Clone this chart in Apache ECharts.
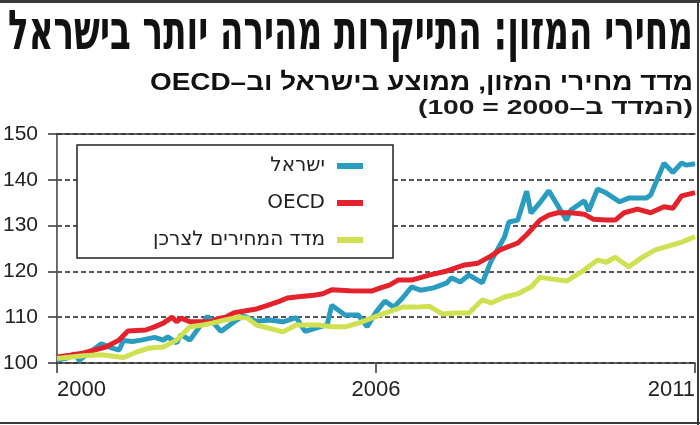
<!DOCTYPE html>
<html>
<head>
<meta charset="utf-8">
<script src="https://cdn.jsdelivr.net/npm/echarts@6/dist/echarts.min.js"></script>
<style>
  html, body { margin: 0; padding: 0; background: #fff; }
  #chart { width: 700px; height: 425px; }
</style>
</head>
<body>
<div id="chart"></div>
<script>
// months counted from January 2000, index = 100 in 2000
const israelMonths = [0, 2, 4, 5, 10, 12, 14, 15, 17, 19, 22, 24, 25, 27, 28, 30, 32, 34, 37, 40, 42, 45, 48, 51, 54, 56,
  61, 62, 65, 68, 70, 72, 74, 76, 78, 80, 82, 85, 88, 89, 91, 93, 96, 98, 101, 102, 104, 106, 107, 109, 111,
  115, 116, 119, 120, 122, 124, 127, 129, 133, 134, 137, 139, 141, 142, 144]
const israelValues = [100.6, 101.0, 102.0, 100.6, 104.2, 103.4, 102.8, 104.9, 104.7, 105.0, 105.6, 105.0, 105.7, 104.4,
  106.2, 105.0, 107.7, 110.2, 106.9, 109.0, 110.3, 109.1, 109.4, 109.0, 109.9, 106.9,
  108.4, 112.6, 110.5, 110.5, 107.9, 111.1, 113.5, 112.2, 114.2, 116.6, 115.9, 116.4, 117.5, 118.6, 117.7,
  119.2, 117.5, 122.3, 127.5, 130.8, 131.2, 137.5, 132.7, 135.0, 137.6,
  131.2, 133.4, 135.4, 133.2, 138.0, 137.1, 135.2, 136.0, 136.0, 136.7, 143.6, 141.6, 143.7, 143.2, 143.5]

const oecdMonths = [0, 3, 6, 11, 14, 16, 20, 22, 24, 26, 27, 28, 30, 33, 35, 36, 38, 40, 42, 45, 47, 50, 52, 55, 58, 60,
  62, 66, 71, 73, 75, 77, 80, 84, 88, 92, 95, 98, 100, 104, 106, 109, 111, 113, 116, 119, 121, 124, 126,
  128, 131, 134, 137, 139, 141, 144]
const oecdValues = [101.3, 101.7, 102.2, 103.5, 105.0, 107.0, 107.2, 107.9, 108.7, 110.0, 109.0, 109.8, 109.0, 109.0,
  109.0, 109.6, 110.0, 111.0, 111.3, 111.8, 112.4, 113.4, 114.2, 114.5, 114.8, 115.1,
  116.0, 115.8, 115.7, 116.4, 117.0, 118.1, 118.1, 119.2, 120.1, 121.4, 121.8, 123.4, 124.7, 126.2, 128.0,
  131.2, 132.3, 132.8, 132.8, 132.5, 131.4, 131.2, 131.2, 132.8, 133.6, 132.8, 134.1, 133.8, 136.5, 137.2]

const cpiMonths = [0, 6, 10, 15, 18, 21, 24, 27, 28, 30, 33, 35, 38, 41, 43, 45, 51, 54, 59, 62, 65, 68, 71, 74, 78, 81,
  84, 87, 90, 93, 96, 98, 101, 104, 107, 109, 115, 119, 122, 124, 126, 129, 132, 135, 138, 141, 144]
const cpiValues = [101.0, 101.6, 101.8, 101.2, 102.4, 103.3, 103.5, 105.0, 106.0, 107.9, 108.3, 108.7, 109.4, 110.0,
  109.8, 108.3, 106.8, 108.3, 108.3, 107.9, 107.9, 108.7, 109.8, 110.9, 112.2, 112.2,
  112.4, 110.7, 110.9, 110.9, 113.8, 113.1, 114.4, 115.1, 116.6, 118.7, 117.9, 120.3, 122.5, 122.0, 123.1,
  121.0, 123.0, 124.7, 125.5, 126.4, 127.6]

const xTickMonths = [0, 72, 144]
const xTickLabels = ['2000', '2006', '2011']

const seriesNames = ['ישראל', 'OECD', 'מדד המחירים לצרכן']
const seriesColors = ['#2a9cc0', '#e3222c', '#cfe052']

const titleText = 'מחירי המזון: התייקרות מהירה יותר בישראל'
const subText1 = 'מדד מחירי המזון, ממוצע בישראל וב–OECD'
const subText2 = '(המדד ב–2000 = 100)'

const latinFont = '"Liberation Sans", Arial, "DejaVu Sans", sans-serif'
const hebFont = '"DejaVu Sans", "Liberation Sans", sans-serif'

// 用canvas量文字宽度, 再横向压缩到原图宽度
function textWidth (text, font) {
  const ctx = document.createElement('canvas').getContext('2d')
  ctx.font = font
  return ctx.measureText(text).width
}

function rtl (s) {
  return '\u202B' + s + '\u202C'
}

function pairs (xs, ys) {
  return xs.map((x, i) => [x, ys[i]])
}

function headerText (text, size, weight, family, top, targetWidth, color) {
  const w = textWidth(rtl(text), weight + ' ' + size + 'px ' + family)
  return {
    type: 'text',
    x: 693,
    y: top,
    scaleX: targetWidth / w,
    z: 10,
    style: {
      text: rtl(text),
      fontSize: size,
      fontWeight: weight,
      fontFamily: family,
      fill: color,
      align: 'right',
      verticalAlign: 'middle'
    }
  }
}

const chart = echarts.init(document.getElementById('chart'), null, { renderer: 'canvas' })

const lineSeries = [
  { months: cpiMonths, values: cpiValues, idx: 2 },
  { months: israelMonths, values: israelValues, idx: 0 },
  { months: oecdMonths, values: oecdValues, idx: 1 }
].map(s => ({
  name: seriesNames[s.idx],
  type: 'line',
  data: pairs(s.months, s.values),
  showSymbol: false,
  symbol: 'none',
  color: seriesColors[s.idx],
  lineStyle: { width: 5, color: seriesColors[s.idx] },
  emphasis: { disabled: true },
  z: 2 + s.idx
}))

const option = {
  animation: false,
  backgroundColor: '#fff',
  grid: {
    left: 57,
    right: 5,
    top: 134,
    bottom: 62,
    containLabel: false,
    outerBoundsMode: 'none'
  },
  legend: {
    orient: 'vertical',
    right: 337,
    top: 156,
    align: 'right',
    icon: 'rect',
    itemWidth: 26,
    itemHeight: 6,
    itemGap: 17,
    padding: 0,
    selectedMode: false,
    z: 12,
    textStyle: {
      fontSize: 20,
      color: '#222',
      fontFamily: hebFont,
      padding: [0, 7, 0, 0]
    },
    data: seriesNames
  },
  xAxis: [
    {
      type: 'value',
      min: 0,
      max: 144,
      interval: 72,
      position: 'bottom',
      axisLine: { show: true, lineStyle: { color: '#333', width: 1.5 } },
      axisTick: { show: true, length: 10, lineStyle: { color: '#333', width: 1.5 } },
      axisLabel: {
        fontSize: 22,
        color: '#222',
        fontFamily: latinFont,
        margin: 16,
        alignMinLabel: 'left',
        alignMaxLabel: 'right',
        formatter: v => {
          const i = xTickMonths.indexOf(v)
          return i >= 0 ? xTickLabels[i] : ''
        }
      },
      splitLine: { show: false }
    },
    {
      type: 'value',
      min: 0,
      max: 144,
      position: 'top',
      axisLine: { show: true, lineStyle: { color: '#333', width: 1.5 } },
      axisTick: { show: false },
      axisLabel: { show: false },
      splitLine: { show: false }
    }
  ],
  yAxis: [
    {
      type: 'value',
      min: 100,
      max: 150,
      interval: 10,
      axisLine: { show: true, lineStyle: { color: '#333', width: 1.5 } },
      axisTick: { show: true, length: 9, lineStyle: { color: '#333', width: 1.5 } },
      axisLabel: { fontSize: 21, color: '#222', fontFamily: latinFont, margin: 19 },
      splitLine: { show: true, lineStyle: { color: '#222', width: 1.5, type: [5, 3] } }
    },
    {
      type: 'value',
      min: 100,
      max: 150,
      position: 'right',
      axisLine: { show: true, lineStyle: { color: '#777', width: 1 } },
      axisTick: { show: false },
      axisLabel: { show: false },
      splitLine: { show: false }
    }
  ],
  graphic: [
    // 图例外框
    { type: 'rect', z: 8, shape: { x: 77, y: 145, width: 316, height: 113 }, style: { fill: '#fff', stroke: '#222', lineWidth: 1.5 } },
    // 外边框
    { type: 'rect', z: 10, shape: { x: 0, y: 0, width: 700, height: 3 }, style: { fill: '#3a3a3a' } },
    { type: 'rect', z: 10, shape: { x: 0, y: 422, width: 700, height: 2 }, style: { fill: '#3a3a3a' } },
    { type: 'rect', z: 10, shape: { x: 697, y: 0, width: 2, height: 425 }, style: { fill: '#3a3a3a' } },
    headerText(titleText, 55, 'bold', hebFont, 35, 685, '#111'),
    headerText(subText1, 24, 'bold', latinFont, 83, 543, '#111'),
    headerText(subText2, 21, 'bold', latinFont, 108, 275, '#1a1a1a')
  ],
  series: lineSeries
}

chart.setOption(option)
</script>
</body>
</html>
